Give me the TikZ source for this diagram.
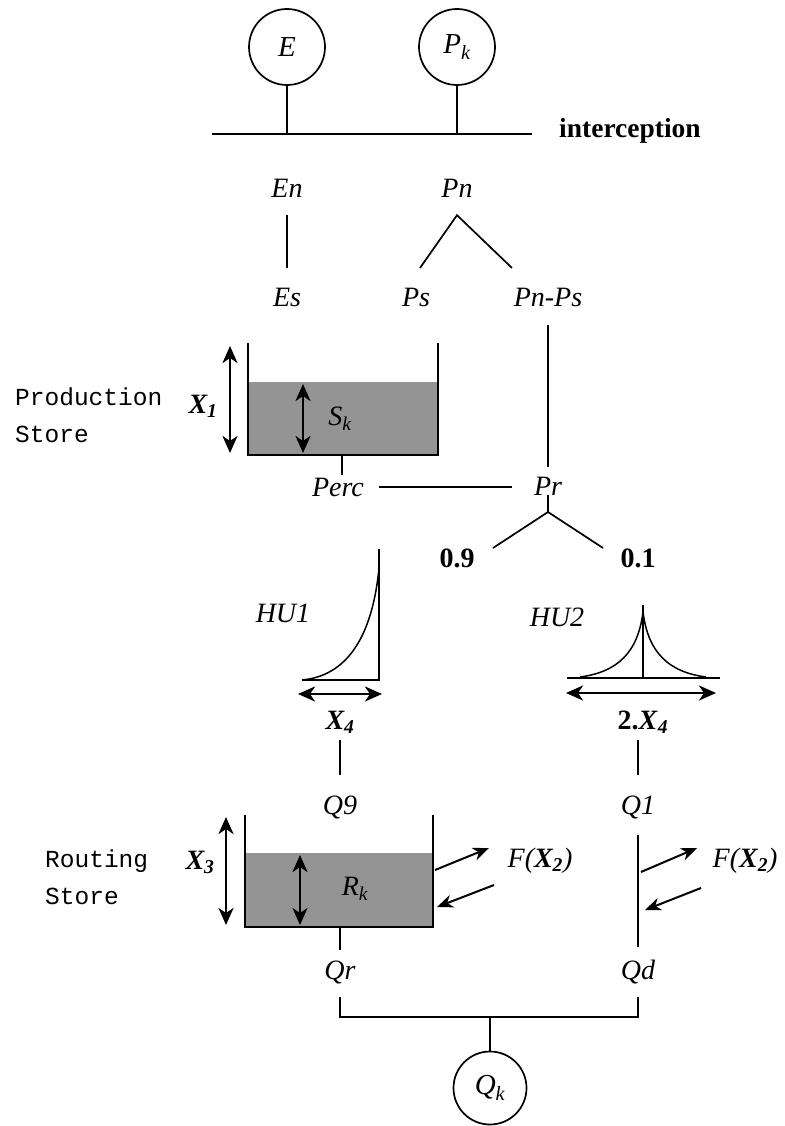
\documentclass[tikz,border=0pt]{standalone}
\usepackage{fontspec}
\setmainfont{Liberation Serif}
\newfontfamily\monofont{Liberation Mono}
\usetikzlibrary{arrows.meta,calc}
\begin{document}
\begin{tikzpicture}[x=1pt,y=-1pt,
  ln/.style={line width=1.7pt},
  lbl/.style={font=\fontsize{28}{30}\selectfont\itshape, inner sep=0pt, text height=18pt, text depth=0pt},
  bld/.style={font=\fontsize{28}{30}\selectfont\bfseries, inner sep=0pt, text height=18pt, text depth=0pt},
  bx/.style={font=\fontsize{28}{30}\selectfont\bfseries\itshape, inner sep=0pt, text height=18pt, text depth=0pt},
  side/.style={font=\fontsize{24.5}{37}\selectfont\monofont, align=left, inner sep=0pt, anchor=west},
  circ/.style={circle, draw, line width=1.7pt, minimum size=76pt, inner sep=0pt, font=\fontsize{29}{30}\selectfont\itshape},
  dbl/.style={line width=2.8pt, {Stealth[length=17pt,width=15pt,inset=5pt]}-{Stealth[length=17pt,width=15pt,inset=5pt]}},
  sgl/.style={line width=2pt, -{Stealth[length=16pt,width=13pt,inset=5pt]}},
  water/.style={fill=black!42}
]
\useasboundingbox (0,0) rectangle (784,1126);

% top inputs
\node[circ] (E) at (287,47) {E};
\node[circ] (Pk) at (457,47) {P\textsubscript{k}};
\coordinate (iL) at (212,134);
\coordinate (iR) at (532,134);
\draw[ln] (iL) -- (iR);
\draw[ln] (E) -- (E |- iL);
\draw[ln] (Pk) -- (Pk |- iL);
\node[font=\fontsize{27.5}{30}\selectfont\bfseries, inner sep=0pt, anchor=west] (icp) at (559,131) {interception};

\node[lbl] (En) at (287,188) {En};
\node[lbl] (Pn) at (457,188) {Pn};
\node[lbl] (Es) at (287,297) {Es};
\node[lbl] (Ps) at (416,297) {Ps};
\node[lbl] (PnPs) at (548,297) {Pn-Ps};

\draw[ln, shorten <=18pt, shorten >=20pt] (En) -- (Es);
\coordinate (apex) at ($(Pn.south)+(0,18)$);
\coordinate (psL) at (420,268);
\coordinate (psR) at (512,268);
\draw[ln] (psL) -- (apex) -- (psR);

% production store
\fill[water] (248,382) rectangle (438,455);
\draw[ln] (248,343) -- (248,455) -- (438,455) -- (438,343);
\draw[dbl] (230,346) -- (230,453);
\draw[dbl] (303,384) -- (303,453);
\node[bx] (X1) at (203,404) {X\textsubscript{1}};
\node[lbl] (Sk) at (340,416) {S\textsubscript{k}};
\node[side] (prodlbl) at (15,415) {Production\\Store};

\node[lbl] (Perc) at (338,487) {Perc};
\node[lbl] (Pr) at (548,486) {Pr};
\coordinate (pb) at (342,455);
\draw[ln] (pb) -- ($(pb |- Perc.north)+(0,-3)$);
\draw[ln, shorten <=15pt, shorten >=22pt] (Perc.east) -- (Perc.east -| Pr.west);
\draw[ln, shorten <=19pt, shorten >=10pt] (PnPs) -- (Pr);

% split 0.9 / 0.1
\coordinate (prj) at (548,512);
\draw[ln] (Pr.south) -- (prj);
\node[bld] (n09) at (457,558) {0.9};
\node[bld] (n01) at (638,558) {0.1};
\coordinate (b09) at (493,548);
\coordinate (b01) at (603,548);
\draw[ln] (b09) -- (prj) -- (b01);

% HU1
\node[lbl] (HU1) at (283,613) {HU1};
\draw[line width=1.5pt] (379,549) -- (379,680) -- (302,680);
\draw[line width=1.5pt] (302,680) .. controls (345,676) and (372,640) .. (379,568);
\draw[dbl] (298,694) -- (382,694);
\node[bx] (X4) at (340,720) {X\textsubscript{4}};

% HU2
\node[lbl] (HU2) at (557,617) {HU2};
\draw[line width=1.5pt] (567,678) -- (720,678);
\draw[line width=1.5pt] (643,605) -- (643,678);
\draw[line width=1.5pt] (580,677) .. controls (618,672) and (638,652) .. (643,612)
  .. controls (648,652) and (668,672) .. (706,677);
\draw[dbl] (566,693) -- (716,693);
\node[bld] (X4b) at (643,720) {2.\textit{X}\textsubscript{\textit{4}}};

\node[lbl] (Q9) at (340,805) {Q9};
\node[lbl] (Q1) at (638,805) {Q1};
\draw[ln, shorten <=11pt, shorten >=21pt] (X4) -- (Q9);
\draw[ln, shorten <=11pt, shorten >=21pt] (X4b.south -| Q1) -- (Q1);

% routing store
\fill[water] (245,853) rectangle (433,927);
\draw[ln] (245,815) -- (245,927) -- (433,927) -- (433,815);
\draw[dbl] (226,817) -- (226,925);
\draw[dbl] (300,855) -- (300,925);
\node[bx] (X3) at (200,860) {X\textsubscript{3}};
\node[lbl] (Rk) at (355,886) {R\textsubscript{k}};
\node[side] (routlbl) at (45,877) {Routing\\Store};

\node[lbl] (F1) at (540,858) {F(\textbf{X}\textsubscript{\textbf{2}})};
\node[lbl] (F2) at (745,858) {F(\textbf{X}\textsubscript{\textbf{2}})};
\coordinate (a1s) at (435,870); \coordinate (a1e) at (489,848);
\coordinate (a2s) at (494,885); \coordinate (a2e) at (437,907);
\draw[sgl] (a1s) -- (a1e);
\draw[sgl] (a2s) -- (a2e);

% direct channel
\node[lbl] (Qr) at (340,970) {Qr};
\node[lbl] (Qd) at (638,970) {Qd};
\draw[ln, shorten <=21pt, shorten >=14pt] (Q1) -- (Qd);
\coordinate (a3s) at (641,872); \coordinate (a3e) at (697,848);
\coordinate (a4s) at (701,888); \coordinate (a4e) at (645,910);
\draw[sgl] (a3s) -- (a3e);
\draw[sgl] (a4s) -- (a4e);

\coordinate (rb) at (340,927);
\draw[ln, shorten >=11pt] (rb) -- (Qr.north);

% outlet
\node[circ, minimum size=73pt] (Qk) at (490,1088) {Q\textsubscript{k}};
\coordinate (bus) at (490,1017);
\draw[ln] ($(Qr.south)+(0,18)$) -- (Qr |- bus) -- (Qd |- bus) -- ($(Qd.south)+(0,18)$);
\draw[ln] (bus) -- (Qk);
\end{tikzpicture}
\end{document}
